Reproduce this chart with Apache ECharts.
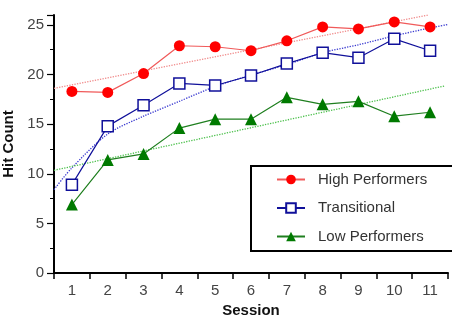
<!DOCTYPE html>
<html>
<head>
<meta charset="utf-8">
<script src="https://cdn.jsdelivr.net/npm/echarts@6/dist/echarts.min.js"></script>
<style>
  html, body { margin: 0; padding: 0; background: #fff; }
  #chart { width: 452px; height: 318px; }
</style>
</head>
<body>
<div id="chart"></div>
<script>
const sessions = ['1', '2', '3', '4', '5', '6', '7', '8', '9', '10', '11'];
const highPerformers = [18.3, 18.2, 20.1, 22.9, 22.8, 22.4, 23.4, 24.8, 24.6, 25.3, 24.8];
const transitional = [8.9, 14.8, 16.9, 19.1, 18.9, 19.9, 21.1, 22.2, 21.7, 23.6, 22.4];
const lowPerformers = [6.9, 11.4, 12.0, 14.6, 15.5, 15.5, 17.7, 17.0, 17.3, 15.8, 16.2];

const highTrend = [[0.5, 18.6], [10.95, 26.0]];
const transTrend = [[0.5, 8.4], [1, 10.6], [2, 14.0], [3, 15.8], [4, 17.3], [5, 18.8], [6, 19.95],
  [7, 21.0], [8, 22.2], [9, 23.0], [10, 23.9], [11, 24.7], [11.5, 25.05]];
const lowTrend = [[0.5, 10.35], [11.4, 18.85]];

const chart = echarts.init(document.getElementById('chart'));

const option = {
  animation: false,
  textStyle: { fontFamily: 'Liberation Sans, Arial, sans-serif' },
  grid: { left: 54, right: 4, top: 15, bottom: 45, outerBoundsMode: 'none', containLabel: false },
  xAxis: [
    {
      type: 'category',
      data: sessions,
      boundaryGap: true,
      name: 'Session',
      nameLocation: 'middle',
      nameGap: 27,
      nameTextStyle: { fontSize: 15, fontWeight: 'bold', color: '#111' },
      axisLine: { lineStyle: { color: '#000', width: 2 } },
      axisTick: { show: true, length: 6, lineStyle: { color: '#000', width: 1.5 } },
      axisLabel: { fontSize: 15, color: '#444', margin: 10 },
      splitLine: { show: false }
    },
    {
      type: 'value',
      min: 0.5,
      max: 11.5,
      show: false
    }
  ],
  yAxis: {
    type: 'value',
    min: 0,
    max: 26,
    interval: 5,
    name: 'Hit Count',
    nameLocation: 'middle',
    nameGap: 38,
    nameRotate: 90,
    nameTextStyle: { fontSize: 15, fontWeight: 'bold', color: '#111' },
    axisLine: { show: true, lineStyle: { color: '#000', width: 2 } },
    axisTick: { show: true, length: 7, lineStyle: { color: '#000', width: 1.2 } },
    minorTick: { show: true, splitNumber: 2, length: 4, lineStyle: { color: '#000', width: 1 } },
    axisLabel: { fontSize: 15, color: '#444', margin: 10 },
    splitLine: { show: false }
  },
  legend: {
    orient: 'vertical',
    left: 271,
    top: 167,
    itemWidth: 28,
    itemHeight: 12,
    itemGap: 13.5,
    textStyle: { fontSize: 15, color: '#333', padding: [0, 0, 0, 8] },
    data: ['High Performers', 'Transitional', 'Low Performers']
  },
  graphic: [
    {
      type: 'rect',
      shape: { x: 251, y: 166, width: 220, height: 85 },
      style: { fill: 'none', stroke: '#000', lineWidth: 2 },
      silent: true
    }
  ],
  series: [
    {
      name: 'High Trend',
      type: 'line',
      xAxisIndex: 1,
      data: highTrend,
      showSymbol: false,
      lineStyle: { color: '#f08a8a', width: 1.3, type: 'dotted' },
      silent: true
    },
    {
      name: 'Trans Trend',
      type: 'line',
      xAxisIndex: 1,
      data: transTrend,
      smooth: 0.3,
      showSymbol: false,
      lineStyle: { color: '#3a3ad0', width: 1.3, type: 'dotted' },
      silent: true
    },
    {
      name: 'Low Trend',
      type: 'line',
      xAxisIndex: 1,
      data: lowTrend,
      showSymbol: false,
      lineStyle: { color: '#4cc04c', width: 1.3, type: 'dotted' },
      silent: true
    },
    {
      name: 'High Performers',
      type: 'line',
      data: highPerformers,
      symbol: 'circle',
      symbolSize: 11,
      itemStyle: { color: '#ff0000' },
      lineStyle: { color: '#f05a5a', width: 1.2 }
    },
    {
      name: 'Transitional',
      type: 'line',
      data: transitional,
      symbol: 'rect',
      symbolSize: 11,
      itemStyle: { color: '#fff', borderColor: '#10109a', borderWidth: 1.5 },
      lineStyle: { color: '#10109a', width: 1.2 }
    },
    {
      name: 'Low Performers',
      type: 'line',
      data: lowPerformers,
      symbol: 'triangle',
      symbolSize: 12,
      itemStyle: { color: '#007a00' },
      lineStyle: { color: '#1f7f1f', width: 1.2 }
    }
  ]
};

chart.setOption(option);
</script>
</body>
</html>
